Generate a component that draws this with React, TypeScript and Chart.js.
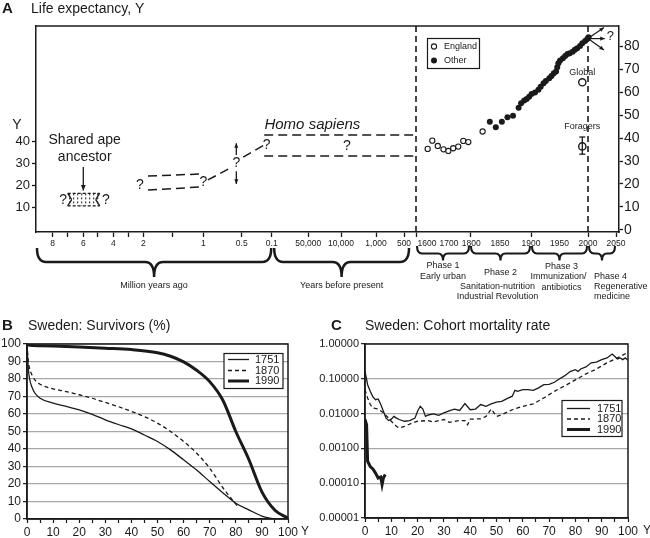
import React, { useEffect, useRef } from 'react';
import { Chart, registerables } from 'chart.js';

Chart.register(...registerables);

const FONT = '"Liberation Sans", Arial, Helvetica, sans-serif';
const INK = '#1a1a1a';
const GRID = '#a8a8a8';

// ================= Panel A data =================
// England (open circles): year, life expectancy
const ENGLAND_YEARS = [1603, 1624, 1649, 1675, 1697, 1720, 1744, 1768, 1792, 1821];
const ENGLAND_LE = [35.3, 38.9, 36.6, 35.1, 34.4, 35.6, 36.3, 38.8, 38.3, 42.9];
// Other (filled circles)
const OTHER_YEARS = [1833, 1843, 1853, 1862, 1871, 1880, 1884, 1889, 1893, 1897, 1901, 1907, 1913, 1917, 1922, 1926, 1932, 1936, 1940, 1944, 1946, 1948, 1951, 1956, 1960, 1964, 1968, 1973, 1977, 1981, 1986, 1990, 1995, 1999, 2001];
const OTHER_LE = [47.2, 44.8, 47.2, 49.1, 49.8, 53.3, 55.2, 56.4, 57.1, 58.1, 59.3, 59.9, 61.1, 62.5, 64.0, 65.0, 66.2, 67.2, 68.4, 69.1, 71.0, 72.7, 73.9, 74.9, 75.9, 76.8, 77.1, 77.8, 78.6, 79.3, 80.3, 81.5, 82.5, 83.4, 84.1];
const GLOBAL_YEAR = [1990];
const GLOBAL_LE = [64.4];
const FORAGER_YEAR = [1990];
const FORAGER_LE = [36.4];
const FORAGER_LOW = [33.0];
const FORAGER_HIGH = [40.5];
// Prehistoric estimates (million years ago, life expectancy)
const EARLY_MYA = [1.92, 1.05];
const EARLY_UPPER_LE = [24.1, 25.0];
const EARLY_LOWER_LE = [17.7, 19.1];
const RISE1_MYA = [0.94, 0.65];
const RISE1_LE = [22.3, 27.7];
const RISE2_MYA = [0.48, 0.16];
const RISE2_LE = [32.7, 39.0];
const HOMO_FROM_MYA = [0.2];
const HOMO_TO_YEAR = [1550];
const HOMO_UPPER_LE = [42.7];
const HOMO_LOWER_LE = [33.2];
const APE_MYA = [7.0, 4.85];
const APE_LE = [10.5, 16.2];
const UNCERTAIN_MYA = [0.57];
const UNCERTAIN_LE = [20.5, 39.0];
const FUTURE_FROM = [2000, 83.5];
const FUTURE_TO_YEARS = [2028.5, 2030, 2028.5];
const FUTURE_TO_LE = [88.3, 83.5, 78.5];
const ERA_LINE_YEARS = [1550, 2000];

// Broken time axis: calendar-year anchors and their axis units
const myaToCE = (m: number) => 2000 - m * 1e6;
const ANCHOR_CE = [-7998000, -6998000, -5998000, -4998000, -3998000, -2998000, -1998000, -1498000, -998000, -498000, -98000, -48000, -8000, 1000, 1500, 1550, 1600, 1700, 1800, 1850, 1900, 1950, 2000, 2050];
const ANCHOR_U = [16.7, 31.7, 47.3, 61.3, 77.3, 92.3, 107.3, 136.7, 167.3, 205.7, 235.7, 272.3, 305, 340, 368, 380, 391, 413, 434, 464, 495, 523.5, 552, 580];
const A_TICK_LABELS = ['8', '', '6', '', '4', '', '2', '', '1', '0.5', '0.1', '50,000', '10,000', '1,000', '500', '', '1600', '1700', '\u00a01800', '1850', '1900', '1950', '2000', '2050'];
const A_TICK_MARK = [1, 1, 1, 1, 1, 1, 1, 1, 1, 1, 1, 1, 1, 1, 1, 1, 0, 0, 1, 0, 1, 0, 1, 1];
const A_LEFT_TICKS = [10, 20, 30, 40];
const A_RIGHT_TICKS = [0, 10, 20, 30, 40, 50, 60, 70, 80];

// ================= Panel B data =================
const B_AGES_1751 = [0, 0.5, 1, 2, 3, 5, 10, 15, 20, 25, 30, 35, 40, 45, 50, 55, 60, 65, 70, 75, 80, 85, 90, 93, 95];
const B_SURV_1751 = [100, 86, 80, 75, 72, 69, 66.2, 64.3, 62.4, 59.8, 56.7, 54, 51.5, 48, 44.3, 39.5, 33.8, 28, 21.4, 15, 9, 5.2, 1.7, 0.5, 0];
const B_AGES_1870 = [0, 0.5, 1, 2, 3, 5, 10, 15, 20, 25, 30, 35, 40, 45, 50, 55, 60, 65, 70, 75, 80, 81];
const B_SURV_1870 = [100, 90, 86, 82, 79.5, 77, 74.4, 72.8, 71, 69, 66.6, 64.2, 61.5, 58.5, 54.8, 50, 44.3, 37.6, 29, 18, 8.5, 7];
const B_AGES_1990 = [0, 1, 5, 10, 20, 30, 40, 50, 55, 60, 65, 70, 75, 80, 85, 90, 95, 100];
const B_SURV_1990 = [100, 99.3, 99, 98.8, 98.3, 97.6, 96.8, 95, 93, 89.8, 85, 78.5, 68, 50, 34, 15.5, 5, 0.5];

// ================= Panel C data =================
const C_AGES_1751 = [0, 1, 2, 3, 4, 5, 6, 7, 8, 9, 10, 11, 12, 13, 15, 17, 19, 20, 21, 22, 23, 24, 26, 28, 30, 32, 34, 36, 38, 40, 42, 44, 46, 48, 50, 52, 54, 56, 57, 58, 60, 62, 64, 66, 68, 70, 72, 74, 76, 78, 80, 81, 82, 84, 86, 88, 90, 92, 94, 95, 96, 97, 98, 99, 100];
const C_RATE_1751 = [0.164, 0.0676, 0.0437, 0.0302, 0.0251, 0.0263, 0.0182, 0.0117, 0.00741, 0.00631, 0.00692, 0.00832, 0.00741, 0.00676, 0.00603, 0.00631, 0.00741, 0.0117, 0.0162, 0.0135, 0.00832, 0.00912, 0.00977, 0.00891, 0.0105, 0.0120, 0.0135, 0.0123, 0.0195, 0.0129, 0.0135, 0.0182, 0.0162, 0.0191, 0.0214, 0.0224, 0.0269, 0.0316, 0.0468, 0.0437, 0.0490, 0.0490, 0.0468, 0.0550, 0.0676, 0.0692, 0.0794, 0.100, 0.123, 0.162, 0.182, 0.162, 0.191, 0.219, 0.288, 0.302, 0.355, 0.398, 0.513, 0.437, 0.372, 0.398, 0.355, 0.398, 0.339];
const C_AGES_1870 = [0, 1, 2, 3, 5, 7, 9, 10, 12, 13, 15, 18, 20, 24, 26, 30, 32, 36, 38, 39, 40, 44, 46, 48, 50, 52, 56, 60, 64, 68, 72, 76, 80, 84, 88, 92, 96, 100];
const C_RATE_1870 = [0.0490, 0.0282, 0.0182, 0.0145, 0.0135, 0.0105, 0.00741, 0.00603, 0.00427, 0.00389, 0.00427, 0.00537, 0.00603, 0.00631, 0.00575, 0.00676, 0.00562, 0.00631, 0.00631, 0.00479, 0.00692, 0.00708, 0.00832, 0.0135, 0.00832, 0.00933, 0.0129, 0.0162, 0.0191, 0.0282, 0.0437, 0.0631, 0.0933, 0.138, 0.191, 0.288, 0.398, 0.575];
const C_AGES_1990 = [0, 0.6, 1, 2, 3, 4, 5, 6, 6.5, 7, 7.7];
const C_RATE_1990 = [0.00676, 0.00479, 0.000427, 0.000302, 0.000257, 0.000195, 0.000141, 0.000151, 0.0000912, 0.000141, 0.000178];
const C_Y_TICKS = [0.00001, 0.0001, 0.001, 0.01, 0.1, 1];
const SERIES_NAMES = ['1751', '1870', '1990'];

// ================= helpers =================
function interp(xs: number[], ys: number[], v: number) {
  const n = xs.length;
  if (v <= xs[0]) return ys[0] + (v - xs[0]) * (ys[1] - ys[0]) / (xs[1] - xs[0]);
  if (v >= xs[n - 1]) return ys[n - 1] + (v - xs[n - 1]) * (ys[n - 1] - ys[n - 2]) / (xs[n - 1] - xs[n - 2]);
  for (let i = 0; i < n - 1; i++) {
    if (v >= xs[i] && v <= xs[i + 1]) return ys[i] + (v - xs[i]) * (ys[i + 1] - ys[i]) / (xs[i + 1] - xs[i]);
  }
  return ys[n - 1];
}
const toU = (ce: number) => interp(ANCHOR_CE, ANCHOR_U, ce);
const ptsYear = (ys: number[], vs: number[]) => ys.map((y, i) => ({ x: toU(y), y: vs[i] }));
const ptsMya = (ms: number[], vs: number[]) => ms.map((m, i) => ({ x: toU(myaToCE(m)), y: vs[i] }));
const pts = (xs: number[], vs: number[]) => xs.map((x, i) => ({ x, y: vs[i] }));

function txt(ctx: any, s: string, x: number, y: number, font: string, align = 'center', base = 'middle') {
  ctx.font = font;
  ctx.textAlign = align;
  ctx.textBaseline = base;
  ctx.fillText(s, x, y);
}
function seg(ctx: any, x1: number, y1: number, x2: number, y2: number) {
  ctx.beginPath(); ctx.moveTo(x1, y1); ctx.lineTo(x2, y2); ctx.stroke();
}
function arrow(ctx: any, x1: number, y1: number, x2: number, y2: number, head = 6) {
  seg(ctx, x1, y1, x2, y2);
  const a = Math.atan2(y2 - y1, x2 - x1);
  ctx.beginPath();
  ctx.moveTo(x2, y2);
  ctx.lineTo(x2 - head * Math.cos(a - 0.42), y2 - head * Math.sin(a - 0.42));
  ctx.lineTo(x2 - head * Math.cos(a + 0.42), y2 - head * Math.sin(a + 0.42));
  ctx.closePath();
  ctx.fill();
}
function brace(ctx: any, x1: number, x2: number, y0: number, d1: number, d2: number, r: number) {
  const xm = (x1 + x2) / 2, y1 = y0 + d1, y2 = y1 + d2;
  ctx.beginPath();
  ctx.moveTo(x1, y0);
  ctx.quadraticCurveTo(x1, y1, x1 + r, y1);
  ctx.lineTo(xm - r, y1);
  ctx.quadraticCurveTo(xm, y1, xm, y2);
  ctx.quadraticCurveTo(xm, y1, xm + r, y1);
  ctx.lineTo(x2 - r, y1);
  ctx.quadraticCurveTo(x2, y1, x2, y0);
  ctx.stroke();
}

// ================= Panel A =================
const panelAPlugin = {
  id: 'panelA',
  afterDraw(chart: any) {
    const { ctx, chartArea: ca } = chart;
    const sx = chart.scales.x, yL = chart.scales.yL, yR = chart.scales.yR;
    const X = (ce: number) => sx.getPixelForValue(toU(ce));
    const XM = (m: number) => X(myaToCE(m));
    const L = (v: number) => yL.getPixelForValue(v);
    const R = (v: number) => yR.getPixelForValue(v);
    ctx.save();
    ctx.strokeStyle = INK; ctx.fillStyle = INK;
    ctx.lineWidth = 1.5;
    seg(ctx, ca.left, ca.top, ca.right, ca.top);

    txt(ctx, 'A', 2, 13, 'bold 15px ' + FONT, 'left', 'alphabetic');
    txt(ctx, 'Life expectancy, Y', 31, 13, '14px ' + FONT, 'left', 'alphabetic');
    txt(ctx, 'Y', ca.left - 19, L(47.3), '14px ' + FONT);

    // era lines
    ctx.setLineDash([6, 4]);
    ctx.lineWidth = 1.6;
    ERA_LINE_YEARS.forEach((yr) => { const x = X(yr); seg(ctx, x, ca.top, x, ca.bottom); });

    // ape ancestor box (hatched)
    const ax1 = XM(APE_MYA[0]), ax2 = XM(APE_MYA[1]);
    const ayB = L(APE_LE[0]), ayT = L(APE_LE[1]);
    ctx.lineWidth = 1.2;
    ctx.setLineDash([3, 2]);
    seg(ctx, ax1, ayT, ax2, ayT);
    seg(ctx, ax1, ayB, ax2, ayB);
    ctx.setLineDash([2, 2]);
    ctx.lineWidth = 1;
    for (let x = ax1 + 2; x < ax2; x += 4) seg(ctx, x, ayT, x, ayB);
    ctx.setLineDash([]);
    ctx.lineWidth = 1.3;
    seg(ctx, ax1, ayT, ax1 + 4, (ayT + ayB) / 2); seg(ctx, ax1 + 4, (ayT + ayB) / 2, ax1, ayB);
    seg(ctx, ax2, ayT, ax2 - 4, (ayT + ayB) / 2); seg(ctx, ax2 - 4, (ayT + ayB) / 2, ax2, ayB);

    // arrow from "ancestor" label
    ctx.lineWidth = 1.3;
    arrow(ctx, XM(6), L(28.2), XM(6), L(17.5), 6);

    // uncertainty double arrow
    const ux = XM(UNCERTAIN_MYA[0]);
    arrow(ctx, ux, L(26.3), ux, L(UNCERTAIN_LE[0]), 5);
    arrow(ctx, ux, L(33.6), ux, L(UNCERTAIN_LE[1]), 5);

    // question marks
    const qf = '14px ' + FONT;
    txt(ctx, '?', XM(7.31), L(13.2), qf);
    txt(ctx, '?', XM(4.46), L(13.2), qf);
    txt(ctx, '?', XM(2.22), L(20.0), qf);
    txt(ctx, '?', XM(1.0), L(21.5), qf);
    txt(ctx, '?', ux, L(29.9), qf);
    txt(ctx, '?', XM(0.167), L(38.0), qf);
    txt(ctx, '?', X(-6500), L(37.9), qf);

    txt(ctx, 'Shared ape', XM(5.9), L(40.5), '14px ' + FONT);
    txt(ctx, 'ancestor', XM(5.9), L(32.8), '14px ' + FONT);
    txt(ctx, 'Homo sapiens', X(-43000), L(47.3), 'italic 15px ' + FONT);

    // foragers error bar
    const fx = X(FORAGER_YEAR[0]);
    ctx.lineWidth = 1.3;
    seg(ctx, fx, R(FORAGER_LOW[0]), fx, R(FORAGER_HIGH[0]));
    seg(ctx, fx - 3, R(FORAGER_LOW[0]), fx + 3, R(FORAGER_LOW[0]));
    seg(ctx, fx - 3, R(FORAGER_HIGH[0]), fx + 3, R(FORAGER_HIGH[0]));
    txt(ctx, 'Global', X(1990), R(68.6), '9px ' + FONT);
    txt(ctx, 'Foragers', X(1990), R(45.3), '9px ' + FONT);

    // future arrows
    const fx0 = X(FUTURE_FROM[0]), fy0 = R(FUTURE_FROM[1]);
    ctx.lineWidth = 1.2;
    FUTURE_TO_YEARS.forEach((yr, i) => arrow(ctx, fx0, fy0, X(yr), R(FUTURE_TO_LE[i]), 5));
    txt(ctx, '?', X(2040), R(84.5), '13px ' + FONT);

    // legend
    ctx.lineWidth = 1.2;
    ctx.strokeRect(427.5, 38.5, 52, 30);
    ctx.beginPath(); ctx.arc(434, 46.5, 2.6, 0, Math.PI * 2);
    ctx.fillStyle = '#fff'; ctx.fill(); ctx.lineWidth = 1.1; ctx.stroke();
    ctx.fillStyle = INK;
    ctx.beginPath(); ctx.arc(434, 60.5, 3, 0, Math.PI * 2); ctx.fill();
    txt(ctx, 'England', 444, 46.5, '9px ' + FONT, 'left');
    txt(ctx, 'Other', 444, 60.5, '9px ' + FONT, 'left');

    // braces below axis
    const b = ca.bottom;
    ctx.lineWidth = 2.5;
    const m1a = ca.left + 1, m1b = XM(0.1) - 0.5;
    brace(ctx, m1a, m1b, b + 16, 14, 15, 9);
    const m2a = XM(0.1) + 2.5, m2b = X(1500) + 5;
    brace(ctx, m2a, m2b, b + 16, 14, 15, 9);
    txt(ctx, 'Million years ago', (m1a + m1b) / 2, b + 54, '9px ' + FONT);
    txt(ctx, 'Years before present', (m2a + m2b) / 2, b + 54, '9px ' + FONT);

    ctx.lineWidth = 2.1;
    const ph = [[1550, 1800], [1800, 1900], [1900, 2000], [2000, 2050]];
    const mids = ph.map(([a, c]) => {
      const xa = X(a) + 1, xb = X(c) - 1;
      brace(ctx, xa, xb, b + 14, 7.5, 7, 5);
      return (xa + xb) / 2;
    });
    const pf = '9px ' + FONT;
    txt(ctx, 'Phase 1', mids[0], b + 34, pf);
    txt(ctx, 'Early urban', mids[0], b + 45, pf);
    txt(ctx, 'Phase 2', mids[1], b + 41, pf);
    txt(ctx, 'Sanitation-nutrition', mids[1] - 3, b + 55, pf);
    txt(ctx, 'Industrial Revolution', mids[1] - 3, b + 65, pf);
    txt(ctx, 'Phase 3', mids[2] + 2, b + 35, pf);
    txt(ctx, 'Immunization/', mids[2] - 1, b + 45, pf);
    txt(ctx, 'antibiotics', mids[2] + 2, b + 56, pf);
    const p4 = X(2000) + 6;
    txt(ctx, 'Phase 4', p4, b + 45, pf, 'left');
    txt(ctx, 'Regenerative', p4, b + 55, pf, 'left');
    txt(ctx, 'medicine', p4, b + 65, pf, 'left');
    ctx.restore();
  },
};

function configA(): any {
  const dashLine = (data: any[]) => ({
    data, yAxisID: 'yL', showLine: true, pointRadius: 0, borderColor: INK,
    borderWidth: 1.5, borderDash: [9, 5], fill: false,
  });
  return {
    type: 'scatter',
    data: {
      datasets: [
        dashLine(ptsMya(EARLY_MYA, EARLY_UPPER_LE)),
        dashLine(ptsMya(EARLY_MYA, EARLY_LOWER_LE)),
        dashLine(ptsMya(RISE1_MYA, RISE1_LE)),
        dashLine(ptsMya(RISE2_MYA, RISE2_LE)),
        dashLine([{ x: toU(myaToCE(HOMO_FROM_MYA[0])), y: HOMO_UPPER_LE[0] }, { x: toU(HOMO_TO_YEAR[0]), y: HOMO_UPPER_LE[0] }]),
        dashLine([{ x: toU(myaToCE(HOMO_FROM_MYA[0])), y: HOMO_LOWER_LE[0] }, { x: toU(HOMO_TO_YEAR[0]), y: HOMO_LOWER_LE[0] }]),
        { label: 'England', data: ptsYear(ENGLAND_YEARS, ENGLAND_LE), yAxisID: 'yR', pointRadius: 2.6, pointBorderWidth: 1.1, borderColor: INK, backgroundColor: '#fff' },
        { label: 'Other', data: ptsYear(OTHER_YEARS, OTHER_LE), yAxisID: 'yR', pointRadius: 3, pointBorderWidth: 0, borderColor: INK, backgroundColor: INK },
        { label: 'Global', data: ptsYear(GLOBAL_YEAR, GLOBAL_LE), yAxisID: 'yR', pointRadius: 3.6, pointBorderWidth: 1.4, borderColor: INK, backgroundColor: '#fff' },
        { label: 'Foragers', data: ptsYear(FORAGER_YEAR, FORAGER_LE), yAxisID: 'yR', pointRadius: 3.6, pointBorderWidth: 1.4, borderColor: INK, backgroundColor: '#fff' },
      ],
    },
    options: {
      responsive: false, animation: false, devicePixelRatio: 1,
      layout: { padding: { top: 26, left: 0, right: 0, bottom: 0 } },
      plugins: { legend: { display: false }, tooltip: { enabled: false }, title: { display: false } },
      scales: {
        x: {
          type: 'linear', min: 0, max: 583,
          afterBuildTicks: (s: any) => { s.ticks = ANCHOR_CE.map((c) => ({ value: toU(c) })); },
          afterFit: (s: any) => { s.height = 88; },
          ticks: { autoSkip: false, maxRotation: 0, font: { family: FONT, size: 8.5 }, color: INK, padding: 2, callback: (_v: any, i: number) => A_TICK_LABELS[i] },
          grid: { drawOnChartArea: false, tickLength: 5, tickWidth: 1.3, tickColor: (c: any) => (A_TICK_MARK[c.index] ? INK : 'rgba(0,0,0,0)') },
          border: { display: true, color: INK, width: 1.5 },
        },
        yL: {
          type: 'linear', position: 'left', min: -1.36, max: 92.3,
          afterBuildTicks: (s: any) => { s.ticks = A_LEFT_TICKS.map((v) => ({ value: v })); },
          afterFit: (s: any) => { s.width = 36; },
          ticks: { font: { family: FONT, size: 13 }, color: INK, padding: 2 },
          grid: { drawOnChartArea: false, tickLength: 4, tickWidth: 1.3, tickColor: INK },
          border: { display: true, color: INK, width: 1.5 },
        },
        yR: {
          type: 'linear', position: 'right', min: -1, max: 89,
          afterBuildTicks: (s: any) => { s.ticks = A_RIGHT_TICKS.map((v) => ({ value: v })); },
          afterFit: (s: any) => { s.width = 31; },
          ticks: { font: { family: FONT, size: 14 }, color: INK, padding: 1 },
          grid: { drawOnChartArea: false, tickLength: 4, tickWidth: 1.3, tickColor: INK },
          border: { display: true, color: INK, width: 1.5 },
        },
      },
    },
    plugins: [panelAPlugin],
  };
}

// ================= Panels B & C =================
function sidePlugin(letter: string, title: string, letterX: number, titleX: number, yLabelX: number, leg: { x: number; y: number; w: number; h: number; lx1: number; lx2: number; tx: number; rows: number[] }) {
  return {
    id: 'side' + letter,
    afterDraw(chart: any) {
      const { ctx, chartArea: ca } = chart;
      ctx.save();
      ctx.strokeStyle = INK; ctx.fillStyle = INK;
      ctx.lineWidth = 1.5;
      ctx.strokeRect(ca.left, ca.top, ca.right - ca.left, ca.bottom - ca.top);
      txt(ctx, letter, letterX, 20, 'bold 15px ' + FONT, 'left', 'alphabetic');
      txt(ctx, title, titleX, 20, '14px ' + FONT, 'left', 'alphabetic');
      txt(ctx, 'Y', yLabelX, ca.bottom + 13, '12px ' + FONT, 'left');
      // legend
      ctx.fillStyle = '#fff';
      ctx.fillRect(leg.x, leg.y, leg.w, leg.h);
      ctx.fillStyle = INK;
      ctx.lineWidth = 1.2;
      ctx.strokeRect(leg.x, leg.y, leg.w, leg.h);
      const styles = [{ w: 1.3, d: [] as number[] }, { w: 1.3, d: [4, 3] }, { w: 3, d: [] as number[] }];
      leg.rows.forEach((ry, i) => {
        ctx.lineWidth = styles[i].w;
        ctx.setLineDash(styles[i].d);
        seg(ctx, leg.lx1, ry, leg.lx2, ry);
        ctx.setLineDash([]);
        txt(ctx, SERIES_NAMES[i], leg.tx, ry, '11px ' + FONT, 'left');
      });
      ctx.restore();
    },
  };
}

function lineDatasets(d: { x: number; y: number }[][], tension: number) {
  const widths = [1.3, 1.3, 3];
  const dashes = [[], [4, 3], []];
  return d.map((data, i) => ({
    label: SERIES_NAMES[i], data, borderColor: INK, borderWidth: widths[i], borderDash: dashes[i],
    pointRadius: 0, fill: false, tension, cubicInterpolationMode: tension > 0 ? 'monotone' : 'default',
  }));
}

const xAxisBC = (h: number) => ({
  type: 'linear', min: 0, max: 100,
  afterFit: (s: any) => { s.height = h; },
  ticks: { stepSize: 5, autoSkip: false, maxRotation: 0, font: { family: FONT, size: 12 }, color: INK, padding: 2, callback: (v: any) => (Number(v) % 10 === 0 ? String(v) : '') },
  grid: { drawOnChartArea: false, tickLength: 4, tickWidth: 1.2, tickColor: INK },
  border: { display: true, color: INK, width: 1.5 },
});

function configB(): any {
  return {
    type: 'line',
    data: { datasets: lineDatasets([pts(B_AGES_1751, B_SURV_1751), pts(B_AGES_1870, B_SURV_1870), pts(B_AGES_1990, B_SURV_1990)], 0.4) },
    options: {
      responsive: false, animation: false, devicePixelRatio: 1,
      layout: { padding: { top: 34, right: 37, left: 0, bottom: 0 } },
      plugins: { legend: { display: false }, tooltip: { enabled: false } },
      scales: {
        x: xAxisBC(19),
        y: {
          type: 'linear', min: 0, max: 100,
          afterFit: (s: any) => { s.width = 27; },
          ticks: { stepSize: 10, font: { family: FONT, size: 12 }, color: INK, padding: 2 },
          grid: { color: GRID, lineWidth: 1.3, tickLength: 4, tickWidth: 1.2, tickColor: INK },
          border: { display: true, color: INK, width: 1.5 },
        },
      },
    },
    plugins: [sidePlugin('B', 'Sweden: Survivors (%)', 2, 28, 301, { x: 224, y: 43.5, w: 59, h: 35, lx1: 228, lx2: 249, tx: 255, rows: [49.5, 60.5, 71] })],
  };
}

function configC(): any {
  return {
    type: 'line',
    data: { datasets: lineDatasets([pts(C_AGES_1751, C_RATE_1751), pts(C_AGES_1870, C_RATE_1870), pts(C_AGES_1990, C_RATE_1990)], 0) },
    options: {
      responsive: false, animation: false, devicePixelRatio: 1,
      layout: { padding: { top: 34, right: 22, left: 0, bottom: 0 } },
      plugins: { legend: { display: false }, tooltip: { enabled: false } },
      scales: {
        x: xAxisBC(20),
        y: {
          type: 'logarithmic', min: 0.00001, max: 1,
          afterBuildTicks: (s: any) => { s.ticks = C_Y_TICKS.map((v) => ({ value: v })); },
          afterFit: (s: any) => { s.width = 53; },
          ticks: { autoSkip: false, font: { family: FONT, size: 11 }, color: INK, padding: 2, callback: (v: any) => Number(v).toFixed(5) },
          grid: { color: GRID, lineWidth: 1.3, tickLength: 4, tickWidth: 1.2, tickColor: INK },
          border: { display: true, color: INK, width: 1.5 },
        },
      },
    },
    plugins: [sidePlugin('C', 'Sweden: Cohort mortality rate', 19, 53, 331, { x: 250, y: 90.5, w: 60, h: 36, lx1: 255, lx2: 278, tx: 285, rows: [98.5, 109, 119.5] })],
  };
}

export default function App() {
  const refA = useRef<HTMLCanvasElement>(null);
  const refB = useRef<HTMLCanvasElement>(null);
  const refC = useRef<HTMLCanvasElement>(null);
  useEffect(() => {
    const charts = [
      new Chart(refA.current as HTMLCanvasElement, configA()),
      new Chart(refB.current as HTMLCanvasElement, configB()),
      new Chart(refC.current as HTMLCanvasElement, configC()),
    ];
    return () => charts.forEach((c) => c.destroy());
  }, []);
  return (
    <div style={{ position: 'absolute', left: 0, top: 0, width: 650, height: 538, background: '#fff' }}>
      <canvas ref={refA} width={650} height={320} style={{ position: 'absolute', left: 0, top: 0 }} />
      <canvas ref={refB} width={325} height={228} style={{ position: 'absolute', left: 0, top: 310 }} />
      <canvas ref={refC} width={338} height={228} style={{ position: 'absolute', left: 312, top: 310 }} />
    </div>
  );
}
